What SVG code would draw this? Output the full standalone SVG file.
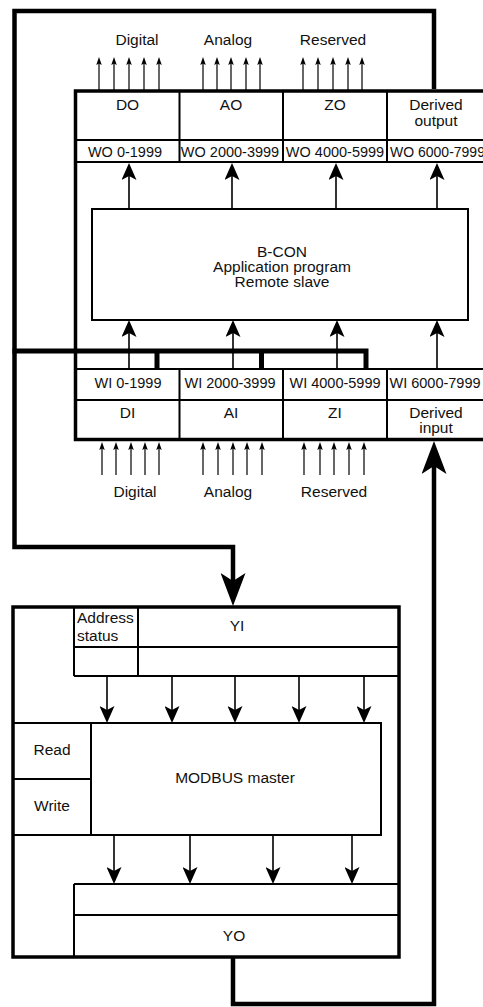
<svg xmlns="http://www.w3.org/2000/svg" width="483" height="1007" viewBox="0 0 483 1007">
<style>
text{font-family:"Liberation Sans",Arial,sans-serif;font-size:15.5px;fill:#111;text-anchor:middle}
.wo{font-size:14.5px}
.l{text-anchor:start}
.s{text-anchor:start;font-size:14px}
.box{fill:#fff;stroke:#000;stroke-width:3.5}
.thin{fill:none;stroke:#000;stroke-width:2}
.ar{fill:none;stroke:#000;stroke-width:1.6}
.sm{fill:none;stroke:#000;stroke-width:1.2}
.thick{fill:none;stroke:#000;stroke-width:4.5;stroke-linejoin:miter}
</style>
<defs>
<marker id="mSmall" viewBox="0 0 8 5.5" refX="4" refY="2.75" markerWidth="8" markerHeight="5.5" markerUnits="userSpaceOnUse" orient="auto"><path d="M0,0 L8,2.75 L0,5.5 L1.5,2.75 z" fill="#000"/></marker>
<marker id="mMed" viewBox="0 0 17 15" refX="8" refY="7.5" markerWidth="17" markerHeight="15" markerUnits="userSpaceOnUse" orient="auto"><path d="M0,0 L17,7.5 L0,15 L4,7.5 z" fill="#000"/></marker>
<marker id="mBig" viewBox="0 0 33 25" refX="16" refY="12.5" markerWidth="33" markerHeight="25" markerUnits="userSpaceOnUse" orient="auto"><path d="M0,0 L33,12.5 L0,25 L8,12.5 z" fill="#000"/></marker>
</defs>

<g id="slave">
<rect class="box" x="75.5" y="91" width="412" height="348.5"/>
<path class="thin" d="M75.5,140 H487 M75.5,162 H487 M179.5,91 V162 M283,91 V162 M387,91 V162"/>
<path class="thin" d="M75.5,369 H487 M75.5,400 H487 M179.5,369 V439.5 M283,369 V439.5 M387,369 V439.5"/>
<text x="127.5" y="110">DO</text>
<text x="231" y="110">AO</text>
<text x="335" y="110">ZO</text>
<text x="436" y="110">Derived</text>
<text x="436" y="126">output</text>
<text class="wo" x="125" y="156.5">WO 0-1999</text>
<text class="wo" x="230" y="156.5">WO 2000-3999</text>
<text class="wo" x="335" y="156.5">WO 4000-5999</text>
<text class="s" x="390" y="156.5">WO 6000-7999</text>
<text class="wo" x="128" y="388">WI 0-1999</text>
<text class="wo" x="230" y="388">WI 2000-3999</text>
<text class="wo" x="335" y="388">WI 4000-5999</text>
<text class="wo" x="435" y="388">WI 6000-7999</text>
<text x="127.5" y="418">DI</text>
<text x="231" y="418">AI</text>
<text x="335" y="418">ZI</text>
<text x="436" y="418">Derived</text>
<text x="436" y="433">input</text>
</g>

<g id="bcon">
<rect x="92" y="209" width="376" height="111" fill="#fff" stroke="#000" stroke-width="2"/>
<text x="282" y="257">B-CON</text>
<text x="282" y="272">Application program</text>
<text x="282" y="287">Remote slave</text>
</g>

<g id="io-labels">
<text x="137" y="45">Digital</text>
<text x="228" y="45">Analog</text>
<text x="333" y="45">Reserved</text>
<text x="135" y="497">Digital</text>
<text x="228" y="497">Analog</text>
<text x="334" y="497">Reserved</text>
</g>

<g id="master">
<rect class="box" x="13" y="607" width="386" height="350"/>
<path class="thin" d="M74,607 V676 M138,607 V676 M74,647 H399 M74,676 H399"/>
<path class="thin" d="M13,723 H91 M13,779 H91 M13,835 H91"/>
<path class="thin" d="M74,884 H399 M74,884 V957 M74,915 H399"/>
<text class="l" x="77" y="623">Address</text>
<text class="l" x="77" y="641">status</text>
<text x="237" y="631">YI</text>
<text x="52" y="755">Read</text>
<text x="52" y="811">Write</text>
<text x="234" y="941">YO</text>
</g>

<g id="modbus">
<rect x="91" y="723" width="290" height="112" fill="#fff" stroke="#000" stroke-width="2"/>
<text x="235" y="783">MODBUS master</text>
</g>

<g id="connectors">
<g class="sm" marker-end="url(#mSmall)">
<path d="M99,90 V61"/><path d="M114,90 V61"/><path d="M129,90 V61"/><path d="M144,90 V61"/><path d="M159,90 V61"/>
<path d="M203,90 V61"/><path d="M217,90 V61"/><path d="M231,90 V61"/><path d="M246,90 V61"/><path d="M260,90 V61"/>
<path d="M303,90 V61"/><path d="M318,90 V61"/><path d="M333,90 V61"/><path d="M348,90 V61"/><path d="M362,90 V61"/>
<path d="M102,475 V446"/><path d="M116,475 V446"/><path d="M131,475 V446"/><path d="M145,475 V446"/><path d="M159,475 V446"/>
<path d="M203,475 V446"/><path d="M218,475 V446"/><path d="M233,475 V446"/><path d="M247,475 V446"/><path d="M262,475 V446"/>
<path d="M304,475 V446"/><path d="M320,475 V446"/><path d="M334,475 V446"/><path d="M349,475 V446"/><path d="M364,475 V446"/>
</g>
<g class="ar" marker-end="url(#mMed)">
<path d="M129,209 V172"/><path d="M232,209 V172"/><path d="M336,209 V172"/><path d="M437,209 V172"/>
<path d="M129,369 V329"/><path d="M233,369 V329"/><path d="M337,369 V329"/><path d="M437,369 V329"/>
<path d="M107,676 V714"/><path d="M172,676 V714"/><path d="M235,676 V714"/><path d="M299,676 V714"/><path d="M364,676 V714"/>
<path d="M114,835 V875"/><path d="M190,835 V875"/><path d="M273,835 V875"/><path d="M352,835 V875"/>
</g>
<path class="thick" d="M434,89 V11 H14.5 V547 H233 V589" marker-end="url(#mBig)"/>
<path class="thick" d="M233,957 V1004 H434 V458" marker-end="url(#mBig)"/>
<path d="M12.5,351 H366 V369 M157,351 V369 M261.5,351 V369" fill="none" stroke="#000" stroke-width="5"/>
</g>
</svg>
